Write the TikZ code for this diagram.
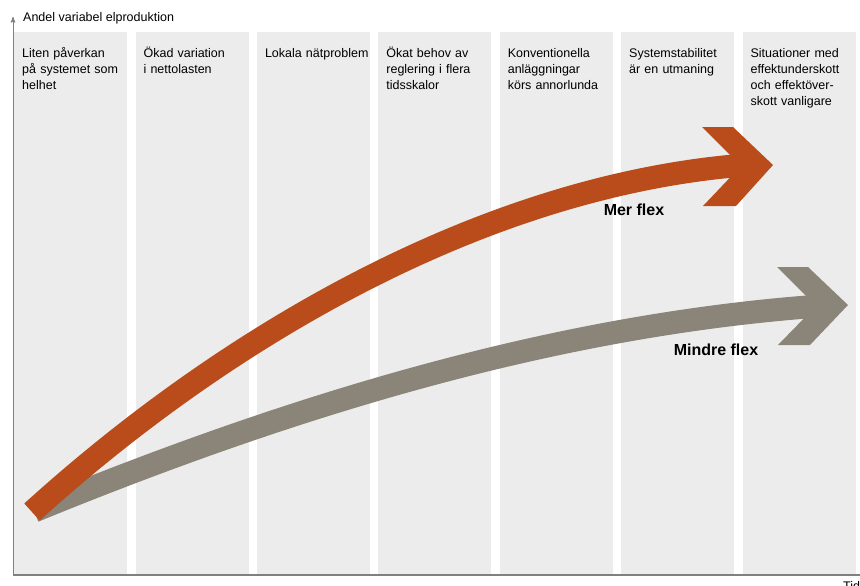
\documentclass[tikz,border=0pt]{standalone}
\usepackage{fontspec}
\setmainfont{Liberation Sans}
\usetikzlibrary{arrows, positioning}

\definecolor{merorange}{RGB}{185,76,26}
\definecolor{mindregray}{RGB}{138,133,120}
\definecolor{colfill}{RGB}{236,236,236}
\definecolor{axisgray}{RGB}{128,128,128}

\begin{document}
\begin{tikzpicture}[x=1pt,y=-1pt,>=stealth',
    col/.style={fill=colfill, inner sep=0pt, minimum width=113pt, minimum height=543pt},
    lbl/.style={anchor=base west, inner sep=0pt, align=left, text width=108pt,
                font=\fontsize{12.5}{16}\selectfont},
    axis/.style={draw=axisgray, line width=1.5pt},
    band/.style={line width=23pt, line cap=butt},
    flex/.style={inner sep=0pt, font=\fontsize{16}{18}\selectfont\bfseries}]
  \useasboundingbox (0,0) rectangle (860,586);

  \node[col, anchor=north west] (c1) at (14,32) {};
  \node[col, right=8pt of c1]   (c2) {};
  \node[col, right=8pt of c2]   (c3) {};
  \node[col, right=8pt of c3]   (c4) {};
  \node[col, right=8pt of c4]   (c5) {};
  \node[col, right=8pt of c5]   (c6) {};
  \node[col, right=8pt of c6]   (c7) {};

  \node[lbl] (t1) at ([xshift=8pt,yshift=-26pt]c1.north west) {Liten påverkan\\på systemet som\\helhet};
  \node[lbl] (t2) at ([xshift=8pt,yshift=-26pt]c2.north west) {Ökad variation\\i nettolasten};
  \node[lbl] (t3) at ([xshift=8pt,yshift=-26pt]c3.north west) {Lokala nätproblem};
  \node[lbl] (t4) at ([xshift=8pt,yshift=-26pt]c4.north west) {Ökat behov av\\reglering i flera\\tidsskalor};
  \node[lbl] (t5) at ([xshift=8pt,yshift=-26pt]c5.north west) {Konventionella\\anläggningar\\körs annorlunda};
  \node[lbl] (t6) at ([xshift=8pt,yshift=-26pt]c6.north west) {Systemstabilitet\\är en utmaning};
  \node[lbl] (t7) at ([xshift=8pt,yshift=-26pt]c7.north west) {Situationer med\\effektunderskott\\och effektöver-\\skott vanligare};

  \coordinate (org)  at (13,575);
  \coordinate (ytop) at (13,17);
  \coordinate (xend) at (860,575);
  \draw[axis] (org) -- (xend);
  \draw[axis, ->, line width=1pt] (org) -- (ytop);
  \node[lbl, text width=, font=\fontsize{12.5}{15}\selectfont] (ylab) at (23,22) {Andel variabel elproduktion};
  \node[lbl, text width=, font=\fontsize{12.5}{15}\selectfont] (xlab) at (843,590) {Tid};

  \coordinate (ostart) at (34,511);
  \coordinate (oend)   at (820,306);
  \draw[band, draw=mindregray] (ostart) .. controls (276,412) and (543,326) .. (oend);
  \fill[mindregray] (777,267) -- (808,267) -- (848,305) -- (810,345) -- (778,345) -- (816,306) -- cycle;

  \coordinate (mstart) at (32,512);
  \coordinate (mend)   at (745,165);
  \draw[band, draw=merorange] (mstart) .. controls (217,344) and (477,186) .. (mend);
  \fill[merorange] (702,127) -- (733,127) -- (773,165) -- (736,206) -- (703,206) -- (741,166) -- cycle;

  \node[flex] (mer)    at (634,210) {Mer flex};
  \node[flex] (mindre) at (716,350) {Mindre flex};
\end{tikzpicture}
\end{document}
